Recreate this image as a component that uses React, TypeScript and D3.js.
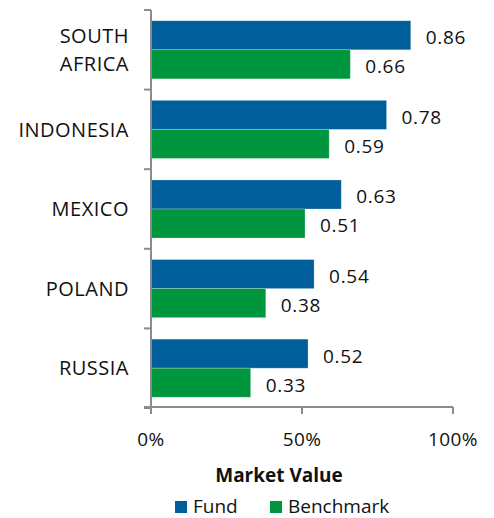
import React from "react";
import * as d3 from "d3";

const categories = ["SOUTH AFRICA", "INDONESIA", "MEXICO", "POLAND", "RUSSIA"];
const fund = [0.86, 0.78, 0.63, 0.54, 0.52];
const benchmark = [0.66, 0.59, 0.51, 0.38, 0.33];
const xTicks = [0, 0.5, 1];
const seriesNames = ["Fund", "Benchmark"];
const colors = ["#005f9b", "#00963d"];

const W = 494, H = 518;
const left = 151, right = 453, top = 10, bottom = 408;
const font = "'Open Sans', 'Segoe UI', sans-serif";

export default function App() {
  const x = d3.scaleLinear().domain([0, 1]).range([left, right]);
  const y = d3.scaleBand().domain(categories).range([top, bottom]).paddingInner(0).paddingOuter(0);
  const inner = d3.scaleBand().domain(seriesNames).range([0, y.bandwidth()]).paddingOuter(0.37).paddingInner(0);
  const series = [fund, benchmark];
  const axisColor = "#8c8c8c";
  return (
    <svg width={W} height={H} style={{ position: "absolute", left: 0, top: 0 }} fontFamily={font}>
      {categories.map((c, i) =>
        series.map((s, j) => {
          const by = (y(c) as number) + (inner(seriesNames[j]) as number);
          const bh = inner.bandwidth();
          return (
            <g key={c + j}>
              <rect x={x(0)} y={by} width={x(s[i]) - x(0)} height={bh} fill={colors[j]} stroke="#ffffff" strokeOpacity={0.3} strokeWidth={0.8} />
              <text x={x(s[i]) + 15} y={by + bh / 2 + 2} dy="0.36em" fontSize={19} letterSpacing={0.7} fill="#111">
                {s[i].toFixed(2)}
              </text>
            </g>
          );
        })
      )}
      {/* y axis */}
      <line x1={left} x2={left} y1={top} y2={bottom} stroke={axisColor} strokeWidth={2} />
      {d3.range(categories.length + 1).map((k) => {
        const ty = top + k * y.step();
        return <line key={k} x1={left - 7} x2={left} y1={ty} y2={ty} stroke={axisColor} strokeWidth={2} />;
      })}
      {categories.map((c) => {
        const cy = (y(c) as number) + y.bandwidth() / 2;
        const words = c === "SOUTH AFRICA" ? ["SOUTH", "AFRICA"] : [c];
        return (
          <text key={c} x={129} y={cy} textAnchor="end" fontSize={20} letterSpacing={0.5} fill="#111">
            {words.map((w, wi) => (
              <tspan key={wi} x={129} dy={words.length === 1 ? 7.2 : wi === 0 ? -14 + 7.2 : 28}>
                {w}
              </tspan>
            ))}
          </text>
        );
      })}
      {/* x axis */}
      <line x1={left - 7} x2={right} y1={bottom - 1} y2={bottom - 1} stroke={axisColor} strokeWidth={2} />
      {xTicks.map((t) => (
        <g key={t}>
          <line x1={x(t)} x2={x(t)} y1={bottom - 1} y2={bottom + 6} stroke={axisColor} strokeWidth={2} />
          <text x={x(t)} y={446} textAnchor="middle" fontSize={19} letterSpacing={0.4} fill="#111">
            {d3.format(".0%")(t)}
          </text>
        </g>
      ))}
      <text x={279} y={482} textAnchor="middle" fontSize={19} fontWeight="bold" fill="#111">
        Market Value
      </text>
      {/* legend */}
      {seriesNames.map((n, j) => {
        const lx = j === 0 ? 175 : 270;
        return (
          <g key={n}>
            <rect x={lx} y={501} width={12} height={12} fill={colors[j]} />
            <text x={lx + 18} y={513} fontSize={19} fill="#111">{n}</text>
          </g>
        );
      })}
    </svg>
  );
}
